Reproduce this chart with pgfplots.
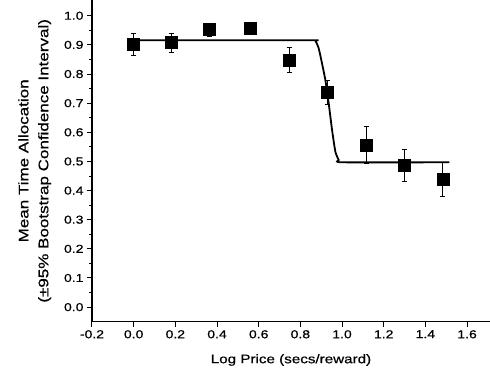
\documentclass[border=0pt]{standalone}
\usepackage{fontspec}
\setmainfont{Liberation Sans}[FakeStretch=1.22, FakeBold=0.6]
\usepackage{pgfplots}
\pgfplotsset{compat=1.18}
\begin{document}
\begin{tikzpicture}[x=1bp,y=1bp]
\useasboundingbox (-92bp,-60.3bp) rectangle (398bp,321.7bp);
\begin{axis}[
  at={(0,0)}, anchor=south west,
  scale only axis, width=398bp, height=321.7bp,
  xmin=-0.2, xmax=1.71, ymin=-0.05, ymax=1.054,
  axis x line*=bottom, axis y line*=left,
  axis line style={line width=1.2bp, -},
  xtick={-0.2,0,0.2,...,1.6}, ytick={0,0.1,...,1.0},
  minor x tick num=1, minor y tick num=1,
  tick align=outside,
  major tick length=5bp, minor tick length=3bp,
  tick style={line width=1bp, black},
  /pgf/number format/assume math mode=true,
  /pgf/number format/.cd, fixed, fixed zerofill, precision=1, /pgfplots/.cd,
  ticklabel style={font=\fontsize{11.5}{12}\selectfont},
  xlabel={Log Price (secs/reward)},
  ylabel={Mean Time Allocation\\(±95\% Bootstrap Confidence Interval)},
  xlabel style={font=\fontsize{12.5}{15}\selectfont, yshift=-9bp},
  ylabel style={font=\fontsize{14}{20}\selectfont, align=center, yshift=6bp},
  clip=false,
]
\addplot[black, line width=1.8bp, smooth, tension=0.3] coordinates {
  (0.0,0.916) (0.85,0.916) (0.872,0.914) (0.888,0.888) (0.904,0.836) (0.920,0.779)
  (0.936,0.699) (0.952,0.608) (0.968,0.533) (0.984,0.505) (1.0,0.497) (1.515,0.497)
};
\addplot[black, only marks, mark=square*, mark size=6bp,
  error bars/.cd, y dir=both, y explicit,
  error bar style={line width=0.6bp, black},
  error mark options={rotate=90, mark size=2.5bp, line width=0.6bp, black}]
  coordinates {
  (0.0,0.902) +- (0,0.038)
  (0.18,0.908) +- (0,0.033)
  (0.363,0.953) +- (0,0.022)
  (0.56,0.957) +- (0,0.010)
  (0.746,0.848) +- (0,0.043)
  (0.93,0.738) +- (0,0.041)
  (1.117,0.557) +- (0,0.064)
  (1.30,0.487) +- (0,0.054)
  (1.483,0.440) +- (0,0.058)
};
\end{axis}
\end{tikzpicture}
\end{document}
